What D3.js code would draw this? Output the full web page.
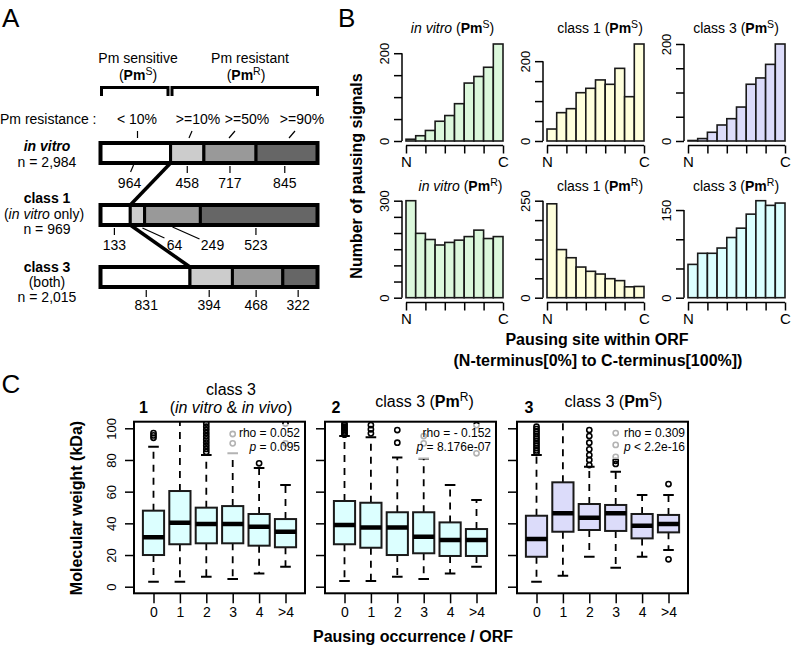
<!DOCTYPE html>
<html><head><meta charset="utf-8">
<script src="https://cdn.jsdelivr.net/npm/d3@7/dist/d3.min.js"></script>
<style>
html,body{margin:0;padding:0;background:#fff;}
svg{display:block;font-family:"Liberation Sans",Arial,Helvetica,sans-serif;}
</style></head><body>
<svg id="fig" width="802" height="647"></svg>
<script>
// ================= DATA =================
// Panel A : number of ORFs per Pm-resistance class
const resistanceLevels = ["< 10%", ">=10%", ">=50%", ">=90%"];
const inVitroCounts = [964, 458, 717, 845];
const class1Counts = [133, 64, 249, 523];
const class3Counts = [831, 394, 468, 322];
const rowTotals = ["2,984", "969", "2,015"];

// Panel B : pausing site histograms (10 bins, N -> C)
const histEndLabels = ["N", "C"];
const inVitroPmS = [4, 12, 24, 45, 58, 85, 132, 147, 168, 221];
const class1PmS = [30, 71, 81, 121, 132, 153, 142, 182, 111, 243];
const class3PmS = [1, 5, 18, 33, 46, 70, 117, 130, 158, 200];
const inVitroPmR = [300, 199, 180, 163, 171, 178, 189, 209, 183, 189];
const class1PmR = [242, 124, 103, 79, 68, 61, 49, 44, 28, 29];
const class3PmR = [57, 76, 76, 85, 103, 119, 143, 166, 158, 162];
const histTickMax = [200, 200, 200, 300, 250, 150];

// Panel C : molecular weight (kDa) box statistics per pausing occurrence
const occurrenceCats = ["0", "1", "2", "3", "4", ">4"];
const p1Low = [3.2, 3.2, 6.3, 4.9, 8.4, 12.6];
const p1Q1 = [20, 26.8, 27.4, 27.4, 25.9, 24.9];
const p1Med = [31.2, 40.4, 39.6, 39.6, 37.9, 34.7];
const p1Q3 = [48, 60.4, 49.9, 50.9, 45.9, 42.7];
const p1High = [88.4, 112, 83.1, 84.2, 75, 64.2];
const p1Out = [[94, 95.5, 97], [], [85, 87, 89, 91, 93, 95, 97, 99, 101, 103], [90.5, 96.4], [77.9], [90.5, 103]];

const p2Low = [3.6, 3.6, 6.3, 4.9, 8.4, 12.6];
const p2Q1 = [26.8, 24.6, 20, 21.1, 19.4, 19.4];
const p2Med = [39, 37.3, 37.3, 31.6, 29.5, 29.5];
const p2Q3 = [54.1, 53, 47, 47, 40.6, 36.4];
const p2High = [95.1, 94.3, 81.6, 81, 64.2, 54.7];
const p2Out = [[96, 97, 98, 99, 100, 101, 102, 103], [96.8, 99.4, 102], [90.9, 98.9], [90.5, 95.1], [], [84.2, 102]];

const p3Low = [3.2, 6.9, 18.9, 12, 18.9, 23.2];
const p3Q1 = [18.9, 34.7, 35.8, 35.2, 30.5, 34.3];
const p3Med = [30.1, 46.3, 43.6, 46.3, 38.5, 39.6];
const p3Q3 = [44.8, 65.9, 52.2, 51.6, 45.9, 45.3];
const p3High = [83.1, 112, 75.8, 72.6, 57.9, 57.9];
const p3Out = [[84.5, 86, 87.5, 89, 90.5, 92, 93.5, 95, 96.5, 98, 99.5, 101], [], [76.8, 80, 83.1, 86.7, 90.9, 95.1, 98.9], [77.5, 79.5, 82, 89.5, 97], [], [17.3, 64.8]];

const rhoValues = ["0.052", "- 0.152", "0.309"];
const pValues = ["= 0.095", "= 8.176e-07", "< 2.2e-16"];

// ================= DRAWING =================
const svg = d3.select("#fig");

function rich(parent, x, y, parts, size, anchor) {
  const t = parent.append("text").attr("x", x).attr("y", y)
    .attr("text-anchor", anchor || "middle").attr("font-size", size).attr("fill", "#000");
  let raised = 0;
  parts.forEach(p => {
    const s = t.append("tspan").text(p.t);
    if (p.b) s.attr("font-weight", "bold");
    if (p.i) s.attr("font-style", "italic");
    if (p.sup) { s.attr("font-size", size * 0.75).attr("dy", -size * 0.33); raised = size * 0.33; }
    else if (raised) { s.attr("dy", raised); raised = 0; }
  });
  return t;
}

// ---------------- Panel A ----------------
const gA = svg.append("g");
gA.append("text").attr("x", 2).attr("y", 27).attr("font-size", 26).text("A");
rich(gA, 138, 63, [{t: "Pm sensitive"}], 14);
rich(gA, 138, 80, [{t: "("}, {t: "Pm", b: 1}, {t: "S", sup: 1}, {t: ")"}], 14);
rich(gA, 250, 63, [{t: "Pm resistant"}], 14);
rich(gA, 246, 80, [{t: "("}, {t: "Pm", b: 1}, {t: "R", sup: 1}, {t: ")"}], 14);
gA.append("path").attr("d", "M101.5,96V87.5H168V96").attr("fill", "none").attr("stroke", "#000").attr("stroke-width", 3);
gA.append("path").attr("d", "M172,96V87.5H317.5V96").attr("fill", "none").attr("stroke", "#000").attr("stroke-width", 3);
gA.append("text").attr("x", 0).attr("y", 124).attr("font-size", 14).text("Pm resistance :");
const levelX = [137, 198, 247, 302];
const levelMarks = [[137.5, 137.5], [192, 189], [235, 229], [295, 289]];
resistanceLevels.forEach((lv, i) => {
  rich(gA, levelX[i], 124, [{t: lv}], 14);
  gA.append("line").attr("x1", levelMarks[i][0]).attr("y1", 131).attr("x2", levelMarks[i][1]).attr("y2", 138)
    .attr("stroke", "#000").attr("stroke-width", 1.2);
});

const barRows = [inVitroCounts, class1Counts, class3Counts];
const barTop = [143, 205, 267], barH = 20;
const segFill = ["#ffffff", "#cccccc", "#999999", "#666666"];
const numBase = [187.5, 250, 310];
const labelDx = [[-6, 0, 0, -2], [-1, 37, 40, -3], [1, -2, -1.5, -2]];
const customLeaders = {"0-0": [-2, 22, -5, 29], "1-1": [5, 23, 27, 33], "1-2": [0, 22, 27, 34]};
const rowScales = barRows.map(c => d3.scaleLinear().domain([0, d3.sum(c)]).range([100.5, 317.5]));

barRows.forEach((counts, r) => {
  const x = rowScales[r];
  const ends = d3.cumsum(counts);
  const starts = [0, ...ends.slice(0, -1)];
  counts.forEach((c, i) => {
    gA.append("rect").attr("x", x(starts[i])).attr("y", barTop[r])
      .attr("width", x(ends[i]) - x(starts[i])).attr("height", barH)
      .attr("fill", segFill[i]).attr("stroke", "#000").attr("stroke-width", 3);
    const segC = (x(starts[i]) + x(ends[i])) / 2;
    const lx = segC + labelDx[r][i];
    const cl = customLeaders[r + "-" + i];
    if (cl) {
      gA.append("line").attr("x1", segC + cl[0]).attr("y1", barTop[r] + cl[1])
        .attr("x2", segC + cl[2]).attr("y2", barTop[r] + cl[3]).attr("stroke", "#000").attr("stroke-width", 1.2);
    } else {
      gA.append("line").attr("x1", lx).attr("y1", barTop[r] + 23).attr("x2", lx).attr("y2", barTop[r] + 30)
        .attr("stroke", "#000").attr("stroke-width", 1.2);
    }
    rich(gA, lx, numBase[r], [{t: String(c)}], 14);
  });
  gA.append("rect").attr("x", x(0)).attr("y", barTop[r]).attr("width", x(d3.sum(counts)) - x(0)).attr("height", barH)
    .attr("fill", "none").attr("stroke", "#000").attr("stroke-width", 4);
});
gA.append("line").attr("x1", rowScales[0](inVitroCounts[0])).attr("y1", barTop[0] + barH)
  .attr("x2", rowScales[1](class1Counts[0])).attr("y2", barTop[1]).attr("stroke", "#000").attr("stroke-width", 3.5);
gA.append("line").attr("x1", rowScales[1](class1Counts[0])).attr("y1", barTop[1] + barH)
  .attr("x2", rowScales[2](class3Counts[0])).attr("y2", barTop[2]).attr("stroke", "#000").attr("stroke-width", 3.5);

rich(gA, 47, 151, [{t: "in vitro", b: 1, i: 1}], 14);
rich(gA, 47, 166.5, [{t: "n = " + rowTotals[0]}], 14);
rich(gA, 47, 203, [{t: "class 1", b: 1}], 14);
rich(gA, 44, 219, [{t: "("}, {t: "in vitro", i: 1}, {t: " only)"}], 14);
rich(gA, 47, 234, [{t: "n = " + rowTotals[1]}], 14);
rich(gA, 47, 271.5, [{t: "class 3", b: 1}], 14);
rich(gA, 47, 287, [{t: "(both)"}], 14);
rich(gA, 47, 302, [{t: "n = " + rowTotals[2]}], 14);

// ---------------- Panel B ----------------
const gB = svg.append("g");
gB.append("text").attr("x", 338).attr("y", 27).attr("font-size", 26).text("B");
const histData = [inVitroPmS, class1PmS, class3PmS, inVitroPmR, class1PmR, class3PmR];
const histFill = ["#dcf8dc", "#ffffdc", "#dcdcfa", "#dcf8dc", "#ffffdc", "#dcffff"];
const histTitles = [
  [{t: "in vitro", i: 1}, {t: " ("}, {t: "Pm", b: 1}, {t: "S", sup: 1}, {t: ")"}],
  [{t: "class 1 ("}, {t: "Pm", b: 1}, {t: "S", sup: 1}, {t: ")"}],
  [{t: "class 3 ("}, {t: "Pm", b: 1}, {t: "S", sup: 1}, {t: ")"}],
  [{t: "in vitro", i: 1}, {t: " ("}, {t: "Pm", b: 1}, {t: "R", sup: 1}, {t: ")"}],
  [{t: "class 1 ("}, {t: "Pm", b: 1}, {t: "R", sup: 1}, {t: ")"}],
  [{t: "class 3 ("}, {t: "Pm", b: 1}, {t: "R", sup: 1}, {t: ")"}]
];
const titleX = [452.5, 600, 736, 460.5, 600, 736];
const titleY = [33, 191];
const histAxisX = [402, 543, 684];
const histZeroY = [141, 297.7];
const histAxisY = [145.5, 302.5];
const histH = 97, histW = 97;

histData.forEach((vals, k) => {
  const col = k % 3, row = Math.floor(k / 3);
  const ax = histAxisX[col], x0 = ax + 4;
  const top = Math.max(d3.max(vals), histTickMax[k]);
  const y = d3.scaleLinear().domain([0, top]).range([histZeroY[row], histZeroY[row] - histH]);
  const x = d3.scaleLinear().domain([0, 100]).range([x0, x0 + histW]);
  const g = gB.append("g");
  g.selectAll("rect.bar").data(vals).enter().append("rect")
    .attr("x", (d, i) => x(i * 10)).attr("width", x(10) - x(0))
    .attr("y", d => y(d)).attr("height", d => y(0) - y(d))
    .attr("fill", histFill[k]).attr("stroke", "#1a1a1a").attr("stroke-width", 1.6);
  const tm = histTickMax[k];
  const yAx = g.append("g").attr("transform", `translate(${ax},0)`)
    .call(d3.axisLeft(y).tickValues(d3.range(0, tm + 1, 50)).tickSize(8)
      .tickFormat(d => (d === 0 || d === tm) ? String(d) : ""));
  yAx.select(".domain").remove();
  yAx.attr("font-family", null).attr("font-size", 13);
  yAx.selectAll("line").attr("stroke", "#000").attr("stroke-width", 1.5);
  yAx.selectAll("text").attr("x", null).attr("dy", null).attr("fill", "#000")
    .attr("text-anchor", "middle").attr("transform", "translate(-13.5,0) rotate(-90)");
  yAx.append("line").attr("x1", 0).attr("x2", 0).attr("y1", y(0)).attr("y2", y(tm))
    .attr("stroke", "#000").attr("stroke-width", 1.5);
  const xAx = g.append("g").attr("transform", `translate(0,${histAxisY[row]})`)
    .call(d3.axisBottom(x).tickValues([0, 20, 40, 60, 80, 100]).tickSize(8)
      .tickFormat(d => d === 0 ? histEndLabels[0] : d === 100 ? histEndLabels[1] : ""));
  xAx.select(".domain").remove();
  xAx.attr("font-family", null).attr("font-size", 15);
  xAx.selectAll("line").attr("stroke", "#000").attr("stroke-width", 1.5);
  xAx.selectAll("text").attr("fill", "#000");
  xAx.append("line").attr("x1", x(0)).attr("x2", x(100)).attr("y1", 0).attr("y2", 0)
    .attr("stroke", "#000").attr("stroke-width", 1.5);
  rich(g, titleX[k], titleY[row], histTitles[k], 14);
});
gB.append("text").attr("transform", "translate(362,176) rotate(-90)").attr("text-anchor", "middle")
  .attr("font-size", 16).attr("font-weight", "bold").text("Number of pausing signals");
gB.append("text").attr("x", 597).attr("y", 345).attr("text-anchor", "middle")
  .attr("font-size", 16).attr("font-weight", "bold").text("Pausing site within ORF");
gB.append("text").attr("x", 598).attr("y", 366).attr("text-anchor", "middle")
  .attr("font-size", 16).attr("font-weight", "bold").text("(N-terminus[0%] to C-terminus[100%])");

// ---------------- Panel C ----------------
const gC = svg.append("g");
gC.append("text").attr("x", 1.5).attr("y", 393).attr("font-size", 26).text("C");
const boxPanels = [
  {low: p1Low, q1: p1Q1, med: p1Med, q3: p1Q3, high: p1High, out: p1Out, fill: "#dcffff"},
  {low: p2Low, q1: p2Q1, med: p2Med, q3: p2Q3, high: p2High, out: p2Out, fill: "#dcffff"},
  {low: p3Low, q1: p3Q1, med: p3Med, q3: p3Q3, high: p3High, out: p3Out, fill: "#dcdcfa"}
];
const frameLeft = [134, 325, 517], frameW = 171, frameTop = 421.7, frameBot = 593.3;
const legendRight = [300, 491, 685];
const yC = d3.scaleLinear().domain([-4.16, 104.16]).range([frameBot, frameTop]);
const boxW = 21.2, capW = 10.6;

boxPanels.forEach((P, k) => {
  const L = frameLeft[k];
  const xC = d3.scalePoint().domain(occurrenceCats).range([L + 19.5, L + frameW - 19.5]);
  const g = gC.append("g");
  const clipId = "clipC" + k;
  g.append("clipPath").attr("id", clipId).append("rect")
    .attr("x", L).attr("y", frameTop).attr("width", frameW).attr("height", frameBot - frameTop);
  const inner = g.append("g").attr("clip-path", `url(#${clipId})`);
  occurrenceCats.forEach((c, i) => {
    const cx = xC(c);
    const b = inner.append("g");
    b.append("line").attr("x1", cx).attr("x2", cx).attr("y1", yC(P.q3[i])).attr("y2", yC(P.high[i]))
      .attr("stroke", "#000").attr("stroke-width", 1.8).attr("stroke-dasharray", "7,6");
    b.append("line").attr("x1", cx).attr("x2", cx).attr("y1", yC(P.q1[i])).attr("y2", yC(P.low[i]))
      .attr("stroke", "#000").attr("stroke-width", 1.8).attr("stroke-dasharray", "7,6");
    [P.high[i], P.low[i]].forEach(v => {
      b.append("line").attr("x1", cx - capW / 2).attr("x2", cx + capW / 2).attr("y1", yC(v)).attr("y2", yC(v))
        .attr("stroke", "#000").attr("stroke-width", 2);
    });
    b.append("rect").attr("x", cx - boxW / 2).attr("width", boxW)
      .attr("y", yC(P.q3[i])).attr("height", yC(P.q1[i]) - yC(P.q3[i]))
      .attr("fill", P.fill).attr("stroke", "#1a1a1a").attr("stroke-width", 2);
    b.append("line").attr("x1", cx - boxW / 2).attr("x2", cx + boxW / 2)
      .attr("y1", yC(P.med[i])).attr("y2", yC(P.med[i])).attr("stroke", "#000").attr("stroke-width", 4.5);
    b.selectAll("circle").data(P.out[i]).enter().append("circle")
      .attr("cx", cx).attr("cy", d => yC(d)).attr("r", 2.6)
      .attr("fill", "none").attr("stroke", "#000").attr("stroke-width", 1.6);
  });
  const leg = g.append("g");
  const bg = leg.append("rect");
  const t1 = rich(leg, legendRight[k], 437.3, [{t: "rho = " + rhoValues[k]}], 12, "end");
  const t2 = rich(leg, legendRight[k], 450.7, [{t: "p", i: 1}, {t: " " + pValues[k]}], 12, "end");
  const w = Math.max(t1.node().getComputedTextLength(), t2.node().getComputedTextLength());
  const lx = legendRight[k] - w - 14;
  bg.attr("x", lx).attr("y", 424).attr("width", L + frameW - 1 - lx).attr("height", 35)
    .attr("fill", "#fff").attr("fill-opacity", 0.7);
  g.append("rect").attr("x", L).attr("y", frameTop).attr("width", frameW).attr("height", frameBot - frameTop)
    .attr("fill", "none").attr("stroke", "#000").attr("stroke-width", 2);
  const yAx = g.append("g").attr("transform", `translate(${L},0)`)
    .call(d3.axisLeft(yC).tickValues([0, 20, 40, 60, 80, 100]).tickSize(9)
      .tickFormat(d => k === 0 ? String(d) : ""));
  yAx.select(".domain").remove();
  yAx.attr("font-family", null).attr("font-size", 13);
  yAx.selectAll("line").attr("stroke", "#000").attr("stroke-width", 1.5);
  yAx.selectAll("text").attr("x", null).attr("dy", null).attr("fill", "#000")
    .attr("text-anchor", "middle").attr("transform", "translate(-18.5,0) rotate(-90)");
  const xAx = g.append("g").attr("transform", `translate(0,${frameBot})`)
    .call(d3.axisBottom(xC).tickSize(10).tickPadding(4));
  xAx.select(".domain").remove();
  xAx.attr("font-family", null).attr("font-size", 14);
  xAx.selectAll("line").attr("stroke", "#000").attr("stroke-width", 1.5);
  xAx.selectAll("text").attr("fill", "#000");
});
rich(gC, 143.5, 413, [{t: "1", b: 1}], 16);
rich(gC, 336, 413, [{t: "2", b: 1}], 16);
rich(gC, 529, 413, [{t: "3", b: 1}], 16);
rich(gC, 231, 394.5, [{t: "class 3"}], 16);
rich(gC, 231, 412.5, [{t: "("}, {t: "in vitro", i: 1}, {t: " & "}, {t: "in vivo", i: 1}, {t: ")"}], 16);
rich(gC, 424.5, 406.5, [{t: "class 3 ("}, {t: "Pm", b: 1}, {t: "R", sup: 1}, {t: ")"}], 16);
rich(gC, 613.5, 406.5, [{t: "class 3 ("}, {t: "Pm", b: 1}, {t: "S", sup: 1}, {t: ")"}], 16);
gC.append("text").attr("transform", "translate(82,508) rotate(-90)").attr("text-anchor", "middle")
  .attr("font-size", 16).attr("font-weight", "bold").text("Molecular weight (kDa)");
gC.append("text").attr("x", 413).attr("y", 641.5).attr("text-anchor", "middle")
  .attr("font-size", 16).attr("font-weight", "bold").text("Pausing occurrence / ORF");
</script>
</body></html>
